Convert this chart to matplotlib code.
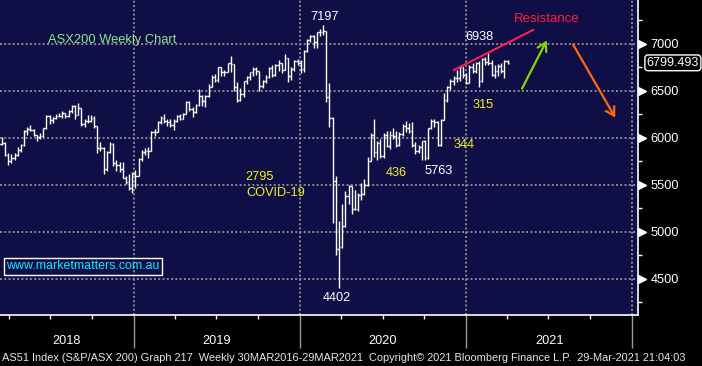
import numpy as np
import pandas as pd
import matplotlib
matplotlib.use('Agg')
import matplotlib.pyplot as plt
import matplotlib.dates as mdates
import matplotlib.transforms as mtrans

plt.rcParams['font.family'] = ['Liberation Sans', 'DejaVu Sans']

# weekly bars (friday dates), S&P/ASX 200
first_week = '2018-03-09'
close_2018 = [5939, 5951, 5820, 5759, 5788, 5816, 5870, 5921, 6070, 6098, 6087, 6031, 6011, 6018, 6105,
              6230, 6194, 6217, 6235, 6237, 6265, 6232, 6283, 6339, 6247, 6319, 6148, 6177, 6179, 6208,
              6126, 5893, 5890, 5665, 5849, 5938, 5734, 5716, 5667, 5579, 5536, 5468, 5618]
high_2018 = [5960, 6010, 5960, 5840, 5830, 5840, 5900, 5935, 6080, 6120, 6135, 6100, 6035, 6055, 6110,
             6240, 6240, 6225, 6260, 6265, 6285, 6270, 6295, 6350, 6350, 6370, 6320, 6200, 6240, 6240,
             6230, 6130, 5960, 5900, 5860, 5960, 5950, 5770, 5740, 5740, 5600, 5620, 5640]
low_2018 = [5870, 5930, 5810, 5710, 5735, 5770, 5810, 5850, 5920, 6030, 6070, 6020, 5970, 5990, 6010,
            6100, 6150, 6160, 6200, 6220, 6215, 6210, 6225, 6270, 6200, 6240, 6130, 6120, 6160, 6170,
            6110, 5840, 5860, 5620, 5650, 5840, 5700, 5650, 5640, 5570, 5510, 5450, 5410]

close_2019 = [5600, 5775, 5854, 5866, 5865, 6066, 6066, 6168, 6217, 6179, 6174, 6143, 6181, 6232, 6206,
              6259, 6383, 6312, 6278, 6347, 6448, 6397, 6443, 6546, 6647, 6619, 6751, 6697, 6701, 6794,
              6782, 6545, 6405, 6472, 6604, 6647, 6698, 6730, 6708, 6551, 6607, 6651, 6746, 6669, 6772,
              6793, 6720, 6846, 6656, 6738, 6816, 6794]
high_2019 = [5660, 5790, 5870, 5890, 5900, 6070, 6100, 6180, 6230, 6260, 6200, 6200, 6200, 6240, 6260,
             6270, 6390, 6390, 6330, 6360, 6520, 6460, 6460, 6570, 6670, 6680, 6760, 6760, 6720, 6800,
             6875, 6790, 6600, 6530, 6610, 6660, 6700, 6750, 6750, 6710, 6620, 6670, 6750, 6780, 6790,
             6830, 6800, 6893, 6850, 6760, 6830, 6840]
low_2019 = [5470, 5600, 5760, 5820, 5790, 5860, 6020, 6060, 6150, 6160, 6130, 6120, 6080, 6170, 6190,
            6200, 6250, 6290, 6220, 6270, 6340, 6340, 6330, 6440, 6540, 6600, 6600, 6660, 6660, 6700,
            6700, 6500, 6380, 6390, 6440, 6570, 6620, 6660, 6670, 6500, 6530, 6580, 6640, 6650, 6660,
            6710, 6690, 6720, 6600, 6620, 6710, 6780]

close_2020 = [6735, 6929, 7042, 7090, 7017, 7123, 7130, 7139, 6441, 6217, 5539, 4816, 4842, 5068, 5387,
              5488, 5242, 5245, 5391, 5405, 5497, 5755, 6036, 5847, 5942, 5805, 6033, 5920, 6033, 6022,
              5928, 6040, 6126, 6111, 6073, 5925, 5859, 5903, 5964, 5791, 6102, 6176, 6169, 5927, 6190,
              6405, 6540, 6601, 6636, 6642, 6756, 6665]
high_2020 = [6830, 6935, 7050, 7100, 7100, 7130, 7160, 7197, 7140, 6590, 6220, 5600, 5120, 5300, 5440,
             5500, 5490, 5450, 5420, 5520, 5560, 5800, 6050, 6200, 5970, 5990, 6050, 6070, 6070, 6110,
             6070, 6060, 6150, 6180, 6160, 6170, 5960, 5930, 5970, 5980, 6110, 6200, 6200, 6180, 6200,
             6480, 6550, 6630, 6660, 6720, 6760, 6760]
low_2020 = [6690, 6700, 6920, 7020, 6960, 6960, 7080, 7100, 6380, 6120, 5100, 4750, 4402, 4830, 5050,
            5300, 5190, 5230, 5220, 5340, 5390, 5490, 5750, 5800, 5770, 5790, 5790, 5900, 5880, 5990,
            5900, 5920, 6020, 6060, 6050, 5900, 5830, 5840, 5763, 5770, 5780, 6100, 6120, 5910, 5910,
            6190, 6380, 6510, 6560, 6600, 6610, 6640]

close_2021 = [6587, 6757, 6715, 6800, 6607, 6841, 6806, 6793, 6673, 6710, 6767, 6708, 6824, 6799.493]
high_2021 = [6690, 6780, 6800, 6810, 6820, 6850, 6860, 6900, 6830, 6780, 6790, 6800, 6830, 6830]
low_2021 = [6570, 6580, 6690, 6690, 6540, 6600, 6780, 6780, 6660, 6640, 6660, 6690, 6640, 6790]

last_price = 6799.493
price_levels = [4500, 5000, 5500, 6000, 6500, 7000]
year_labels = [2018, 2019, 2020, 2021]
footer = ('AS51 Index (S&P/ASX 200) Graph 217  Weekly 30MAR2016-29MAR2021  '
          'Copyright\u00a9 2021 Bloomberg Finance L.P.  29-Mar-2021 21:04:03')

closes = np.array(close_2018 + close_2019 + close_2020 + close_2021, dtype=float)
highs = np.array(high_2018 + high_2019 + high_2020 + high_2021, dtype=float)
lows = np.array(low_2018 + low_2019 + low_2020 + low_2021, dtype=float)
opens = np.concatenate([[closes[0]], closes[:-1]])
highs = np.maximum(highs, np.maximum(opens, closes))
lows = np.minimum(lows, np.minimum(opens, closes))
weeks = pd.date_range(first_week, periods=len(closes), freq='W-FRI')

navy = '#100e46'
grid_col = '#8a8a8a'
fig = plt.figure(figsize=(7.02, 3.66), dpi=100, facecolor='black')
ax = fig.add_axes([0, 51 / 366, 638 / 702, 315 / 366], facecolor=navy)

xs = mdates.date2num(weeks)
half = 3.3
ax.vlines(xs, lows, highs, color='white', lw=1.0)
ax.hlines(opens, xs - half, xs, color='white', lw=1.0)
ax.hlines(closes, xs, xs + half, color='white', lw=1.0)

x0 = mdates.date2num(pd.Timestamp('2018-03-12'))
x1 = mdates.date2num(pd.Timestamp('2022-01-14'))
ax.set_xlim(x0, x1)
ax.set_ylim(4117, 7468)

# grid
for lv in price_levels:
    ax.axhline(lv, color=grid_col, lw=1.4, ls=(0, (1, 1.2)), zorder=0)
year_starts = [mdates.date2num(pd.Timestamp('%d-01-01' % y)) for y in range(2019, 2023)]
for xv in year_starts:
    ax.axvline(xv, color=grid_col, lw=1.4, ls=(0, (1, 1.2)), zorder=0)

# spines
for s in ['top', 'left']:
    ax.spines[s].set_visible(False)
ax.spines['right'].set_color('white')
ax.spines['bottom'].set_color('white')
ax.spines['right'].set_linewidth(1.2)
ax.spines['bottom'].set_linewidth(1.2)

# x axis: year boundaries + quarters
ax.xaxis.set_major_locator(mdates.YearLocator())
ax.xaxis.set_minor_locator(mdates.MonthLocator([1, 4, 7, 10]))
ax.xaxis.set_major_formatter(plt.NullFormatter())
ax.tick_params(axis='x', which='major', length=24, width=1.0, color='#9a9a9a', direction='out')
ax.tick_params(axis='x', which='minor', length=3, width=1.0, color='white', direction='out')

# y axis on right
ax.yaxis.tick_right()
ax.set_yticks(price_levels)
ax.set_yticks(np.arange(4250, 7500, 500), minor=True)
ax.tick_params(axis='y', which='major', length=0, pad=9, labelsize=9.2, labelcolor='white')
ax.tick_params(axis='y', which='minor', length=3, width=1.0, color='white', direction='out')
trans_tri = mtrans.offset_copy(mtrans.blended_transform_factory(ax.transAxes, ax.transData),
                               fig=fig, x=3.2, units='points')
ax.plot([1.0] * len(price_levels), price_levels, ls='none', marker='>', ms=5.5, color='white',
        transform=trans_tri, clip_on=False)

# year labels centred in visible span
bounds = [x0] + year_starts
tb = mtrans.blended_transform_factory(ax.transData, fig.transFigure)
for i, yr in enumerate(year_labels):
    ax.text((bounds[i] + bounds[i + 1]) / 2, (366 - 341) / 366, str(yr), transform=tb,
            ha='center', va='center', color='white', fontsize=9.2, clip_on=False)

# footer, shrunk to fit the strip
ft = fig.text(2 / 702, (366 - 358) / 366, footer, ha='left', va='center', color='#e6e6e6',
              fontsize=8.5)
renderer = fig.canvas.get_renderer()
w = ft.get_window_extent(renderer).width
ft.set_fontsize(8.5 * 680 / w)

# last price tag
trans_tag = mtrans.offset_copy(mtrans.blended_transform_factory(ax.transAxes, ax.transData),
                               fig=fig, x=6.3, units='points')
ax.text(1.0, last_price, '%.3f' % last_price, transform=trans_tag, ha='left', va='center',
        color='white', fontsize=9.0, clip_on=False,
        bbox=dict(boxstyle='round,pad=0.15,rounding_size=0.25', fc='black', ec='white', lw=1.0))

def d(s):
    return mdates.date2num(pd.Timestamp(s))

# annotations
yellow = '#f2f21e'
ax.text(d('2018-11-13'), 7043, 'ASX200 Weekly Chart', color='#8ee88e', fontsize=9.3, ha='center', va='center')
ax.text(d('2020-02-24'), 7282, '7197', color='white', fontsize=9.2, ha='center', va='center')
ax.text(d('2021-01-30'), 7074, '6938', color='white', fontsize=9.2, ha='center', va='center')
ax.text(d('2021-06-26'), 7266, 'Resistance', color='#ff1f3d', fontsize=9.5, ha='center', va='center')
ax.text(d('2021-02-08'), 6356, '315', color=yellow, fontsize=9.2, ha='center', va='center')
ax.text(d('2020-12-27'), 5926, '344', color=yellow, fontsize=9.2, ha='center', va='center')
ax.text(d('2020-11-02'), 5644, '5763', color='white', fontsize=9.2, ha='center', va='center')
ax.text(d('2020-07-31'), 5628, '436', color=yellow, fontsize=9.2, ha='center', va='center')
ax.text(d('2019-09-04'), 5585, '2795', color=yellow, fontsize=9.2, ha='left', va='center')
ax.text(d('2019-09-06'), 5415, 'COVID-19', color=yellow, fontsize=9.2, ha='left', va='center')
ax.text(d('2020-03-22'), 4293, '4402', color='white', fontsize=9.2, ha='center', va='center')
ax.text(d('2018-09-11'), 4633, 'www.marketmatters.com.au', color='#19e6ff', fontsize=8.9, ha='center',
        va='center', bbox=dict(boxstyle='square,pad=0.18', fc='none', ec='white', lw=1.0))

ax.plot([d('2020-12-05'), d('2021-05-28')], [6723, 7149], color='#ff2050', lw=1.5)
ax.annotate('', xy=(d('2021-06-30'), 7064), xytext=(d('2021-05-01'), 6500),
            arrowprops=dict(arrowstyle='->,head_length=0.6,head_width=0.35', color='#86d400', lw=1.6))
ax.annotate('', xy=(d('2021-11-28'), 6191), xytext=(d('2021-08-21'), 7021),
            arrowprops=dict(arrowstyle='->,head_length=0.6,head_width=0.35', color='#ff6a0a', lw=1.6))

fig.savefig('out.png', dpi=100, facecolor='black')
